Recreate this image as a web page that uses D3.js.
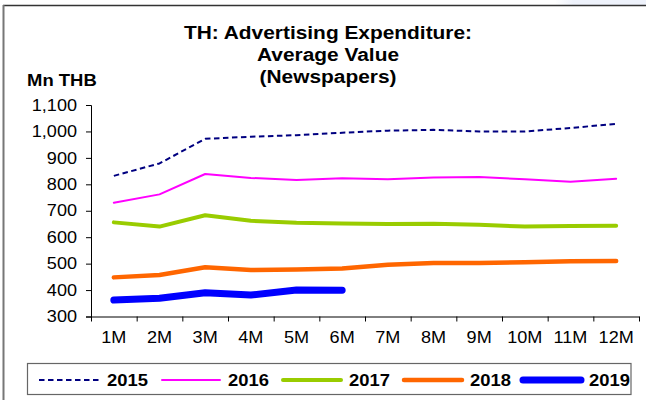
<!DOCTYPE html>
<html>
<head>
<meta charset="utf-8">
<script src="https://cdn.jsdelivr.net/npm/d3@7"></script>
<style>
  html, body { margin: 0; padding: 0; background: #fff; }
  svg { display: block; font-family: "Liberation Sans", Arial, sans-serif; }
</style>
</head>
<body>
<svg id="chart" width="646" height="400"></svg>
<script>
// Monthly average newspaper advertising spend, Mn THB
const months = ["1M","2M","3M","4M","5M","6M","7M","8M","9M","10M","11M","12M"];
const y2015 = [832, 879, 972, 980, 986, 995, 1003, 1006, 1000, 1000, 1013, 1029];
const y2016 = [730, 762, 839, 824, 816, 823, 819, 826, 828, 819, 810, 821];
const y2017 = [656, 640, 683, 662, 655, 652, 650, 651, 647, 640, 642, 643];
const y2018 = [448, 457, 486, 476, 478, 482, 496, 502, 502, 505, 509, 510];
const y2019 = [362, 369, 390, 381, 400, 399];
const yTicks = [300, 400, 500, 600, 700, 800, 900, 1000, 1100];
const seriesNames = ["2015", "2016", "2017", "2018", "2019"];

const series = [
  { name: seriesNames[0], values: y2015, color: "#000080", width: 2,   dash: "5.5,3.5" },
  { name: seriesNames[1], values: y2016, color: "#FF00FF", width: 2,   dash: null },
  { name: seriesNames[2], values: y2017, color: "#99CC00", width: 4,   dash: null },
  { name: seriesNames[3], values: y2018, color: "#FF6600", width: 4.5, dash: null },
  { name: seriesNames[4], values: y2019, color: "#0000FF", width: 7,   dash: null }
];

const SX = 1.13; // horizontal text stretch
const svg = d3.select("#chart");

// outer frame
const defs = svg.append("defs");
const grad = defs.append("linearGradient").attr("id", "haze").attr("x1", 0).attr("x2", 1);
grad.append("stop").attr("offset", 0).attr("stop-color", "#ffffff");
grad.append("stop").attr("offset", 0.2).attr("stop-color", "#eef2fb");
grad.append("stop").attr("offset", 1).attr("stop-color", "#eef2fb");
svg.append("rect").attr("x", 555).attr("y", 0).attr("width", 91).attr("height", 5).attr("fill", "url(#haze)");
svg.append("line").attr("x1", 3).attr("x2", 646).attr("y1", 5.5).attr("y2", 5.5)
  .attr("stroke", "#333").attr("stroke-width", 1.5);
svg.append("line").attr("x1", 3.5).attr("x2", 3.5).attr("y1", 5).attr("y2", 400)
  .attr("stroke", "#777").attr("stroke-width", 2);

// title
const titleLines = ["TH: Advertising Expenditure:", "Average Value", "(Newspapers)"];
const titleBase = [39, 61, 83];
titleLines.forEach((t, i) => {
  svg.append("text")
    .attr("transform", `translate(328,${titleBase[i]}) scale(1.13,1)`)
    .attr("text-anchor", "middle")
    .attr("font-size", 18.5).attr("font-weight", "bold").attr("fill", "#000")
    .text(t);
});

svg.append("text")
  .attr("transform", `translate(27,86) scale(1.12,1)`)
  .attr("font-size", 16.5).attr("font-weight", "bold").attr("fill", "#000")
  .text("Mn THB");

// scales
const plotLeft = 91, plotRight = 639, plotTop = 105, plotBottom = 316.5;
const x = d3.scaleBand().domain(months).range([plotLeft, plotRight]).paddingInner(0).paddingOuter(0);
const xEdge = d3.scaleLinear().domain([0, months.length]).range([plotLeft, plotRight]);
const y = d3.scaleLinear().domain([300, 1100]).range([plotBottom, plotTop]);

// y axis
const gy = svg.append("g").attr("transform", `translate(${plotLeft},0)`)
  .call(d3.axisLeft(y).tickValues(yTicks).tickFormat(d3.format(",")).tickSize(5).tickPadding(7.4));
gy.selectAll("path, line").attr("stroke", "#000").attr("stroke-width", 1);
gy.selectAll("text")
  .attr("font-size", 16).attr("fill", "#000")
  .attr("font-family", "Liberation Sans, Arial, sans-serif")
  .attr("transform", `scale(${SX},1)`);

// x axis: ticks on category boundaries
const gxTicks = svg.append("g").attr("transform", `translate(0,${plotBottom})`)
  .call(d3.axisBottom(xEdge).tickValues(d3.range(0, months.length + 1)).tickFormat("").tickSize(5).tickSizeOuter(0));
gxTicks.selectAll("path, line").attr("stroke", "#000").attr("stroke-width", 1);

// x axis labels at category centres
const gx = svg.append("g").attr("transform", `translate(0,${plotBottom})`)
  .call(d3.axisBottom(x).tickSize(0));
gx.select(".domain").remove();
gx.selectAll("text")
  .attr("y", 27).attr("dy", 0)
  .attr("font-size", 16).attr("fill", "#000")
  .attr("font-family", "Liberation Sans, Arial, sans-serif")
  .attr("transform", `scale(${SX},1)`);

// lines
const line = d3.line()
  .x((d, i) => x(months[i]) + x.bandwidth() / 2)
  .y(d => y(d));

svg.append("g").selectAll("path.series")
  .data(series)
  .join("path")
  .attr("class", "series")
  .attr("fill", "none")
  .attr("stroke", d => d.color)
  .attr("stroke-width", d => d.width)
  .attr("stroke-dasharray", d => d.dash)
  .attr("stroke-linecap", d => d.dash ? "butt" : "round")
  .attr("stroke-linejoin", "round")
  .attr("d", d => line(d.values));

// legend
svg.append("rect").attr("x", 27.5).attr("y", 363.5).attr("width", 603.5).attr("height", 31)
  .attr("fill", "#fff").attr("stroke", "#666").attr("stroke-width", 1.2);

const legendStart = [39, 160, 281, 402, 521];
const lg = svg.append("g").selectAll("g")
  .data(series)
  .join("g")
  .attr("transform", (d, i) => `translate(${legendStart[i]},380)`);
lg.append("line")
  .attr("x1", d => d.dash ? 0 : 2).attr("x2", d => d.dash ? 61 : 60)
  .attr("y1", 0).attr("y2", 0)
  .attr("stroke", d => d.color)
  .attr("stroke-width", d => d.width)
  .attr("stroke-dasharray", d => d.dash)
  .attr("stroke-linecap", d => d.dash ? "butt" : "round");
lg.append("text")
  .attr("transform", "translate(68,6) scale(1.15,1)")
  .attr("font-size", 16).attr("font-weight", "bold").attr("fill", "#000")
  .text(d => d.name);
</script>
</body>
</html>
